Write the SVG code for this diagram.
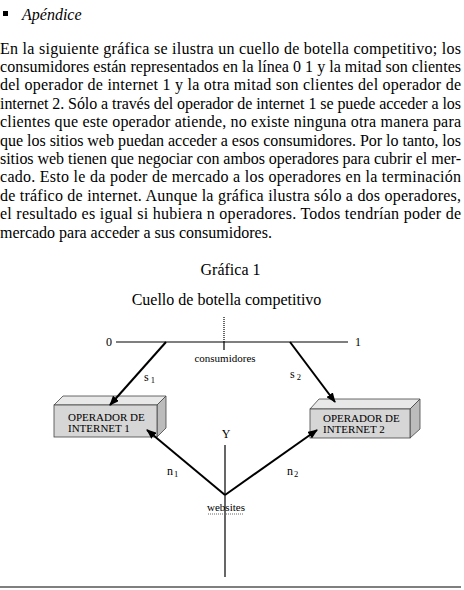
<svg xmlns="http://www.w3.org/2000/svg" width="464" height="590" viewBox="0 0 464 590">
<style>
.t{font-family:"Liberation Serif","Times New Roman",serif;fill:#000}
.p{font-size:16px}
.s{font-size:11px}
.m{font-size:12px}
.sub{font-size:8.5px}
.ln{stroke:#000;fill:none}
.arr{stroke:#000;stroke-width:2;fill:none;marker-end:url(#ah)}
.front{fill:#d6d6d6;stroke:#444;stroke-width:0.8}
.top{fill:#e8e8e8;stroke:#444;stroke-width:0.8}
.side{fill:#bcbcbc;stroke:#444;stroke-width:0.8}
</style>
<defs>
<marker id="ah" markerUnits="userSpaceOnUse" markerWidth="10" markerHeight="8" refX="9" refY="4" orient="auto">
<path d="M0,0 L10,4 L0,8 z" fill="#000"/>
</marker>
</defs>
<rect width="464" height="590" fill="#fff"/>
<g id="heading">
<rect x="3" y="11" width="5" height="5" fill="#000"/>
<text class="t" x="22" y="20" font-size="16" font-style="italic">Apéndice</text>
</g>
<g id="paragraph" class="t p">
<text x="0" y="53.5" textLength="461" lengthAdjust="spacing">En la siguiente gráfica se ilustra un cuello de botella competitivo; los</text>
<text x="0" y="71.9" textLength="461" lengthAdjust="spacing">consumidores están representados en la línea 0 1 y la mitad son clientes</text>
<text x="0" y="90.3" textLength="461" lengthAdjust="spacing">del operador de internet 1 y la otra mitad son clientes del operador de</text>
<text x="0" y="108.7" textLength="461" lengthAdjust="spacing">internet 2. Sólo a través del operador de internet 1 se puede acceder a los</text>
<text x="0" y="127.1" textLength="461" lengthAdjust="spacing">clientes que este operador atiende, no existe ninguna otra manera para</text>
<text x="0" y="145.5" textLength="461" lengthAdjust="spacing">que los sitios web puedan acceder a esos consumidores. Por lo tanto, los</text>
<text x="0" y="163.9" textLength="461" lengthAdjust="spacing">sitios web tienen que negociar con ambos operadores para cubrir el mer-</text>
<text x="0" y="182.3" textLength="461" lengthAdjust="spacing">cado. Esto le da poder de mercado a los operadores en la terminación</text>
<text x="0" y="200.7" textLength="461" lengthAdjust="spacing">de tráfico de internet. Aunque la gráfica ilustra sólo a dos operadores,</text>
<text x="0" y="219.1" textLength="461" lengthAdjust="spacing">el resultado es igual si hubiera n operadores. Todos tendrían poder de</text>
<text x="0" y="237.5">mercado para acceder a sus consumidores.</text>
</g>
<g id="titles" class="t p">
<text x="230.5" y="275" text-anchor="middle">Gráfica 1</text>
<text x="226.5" y="305" text-anchor="middle">Cuello de botella competitivo</text>
</g>
<g id="consumidores">
<line class="ln" x1="116" y1="342" x2="348" y2="342" stroke-width="1.2"/>
<line class="ln" x1="224" y1="317" x2="224" y2="342" stroke-width="1.2" stroke-dasharray="1,1"/>
<line class="ln" x1="224" y1="342" x2="224" y2="350" stroke-width="1.2"/>
<text class="t m" x="109" y="346" text-anchor="middle">0</text>
<text class="t m" x="358" y="346" text-anchor="middle">1</text>
<text class="t s" x="225" y="362" text-anchor="middle">consumidores</text>
</g>
<g id="operador1">
<polygon class="top" points="54,405 63,396 166,396 157,405"/>
<polygon class="side" points="157,405 166,396 166,428 157,437"/>
<rect class="front" x="54" y="405" width="103" height="32"/>
<text class="t s" x="68" y="421">OPERADOR DE</text>
<text class="t s" x="68" y="432">INTERNET 1</text>
</g>
<g id="operador2">
<polygon class="top" points="310,409 319,399 420,399 410,409"/>
<polygon class="side" points="410,409 420,399 420,429 410,438"/>
<rect class="front" x="310" y="409" width="100" height="29"/>
<text class="t s" x="323" y="422">OPERADOR DE</text>
<text class="t s" x="323" y="433">INTERNET 2</text>
</g>
<g id="websites">
<line class="ln" x1="225" y1="445" x2="225" y2="577" stroke-width="1.2"/>
<text class="t m" x="226" y="438" text-anchor="middle">Y</text>
<text class="t s" x="226" y="511" text-anchor="middle">websites</text>
<line x1="208" y1="514" x2="243" y2="514" stroke="#666" stroke-width="1" stroke-dasharray="1,1"/>
</g>
<g id="connectors">
<line class="arr" x1="166" y1="342" x2="110" y2="405"/>
<line class="arr" x1="290" y1="342" x2="335" y2="402"/>
<line class="arr" x1="225" y1="495" x2="147" y2="430"/>
<line class="arr" x1="225" y1="495" x2="317" y2="430"/>
<text class="t m" x="144" y="381">s<tspan class="sub" dx="2" dy="2">1</tspan></text>
<text class="t m" x="290" y="378">s<tspan class="sub" dx="2" dy="2">2</tspan></text>
<text class="t m" x="167" y="475">n<tspan class="sub" dx="1" dy="2">1</tspan></text>
<text class="t m" x="287" y="475">n<tspan class="sub" dx="1" dy="2">2</tspan></text>
</g>
<line x1="0" y1="587" x2="461" y2="587" stroke="#000" stroke-width="1.2"/>
</svg>
